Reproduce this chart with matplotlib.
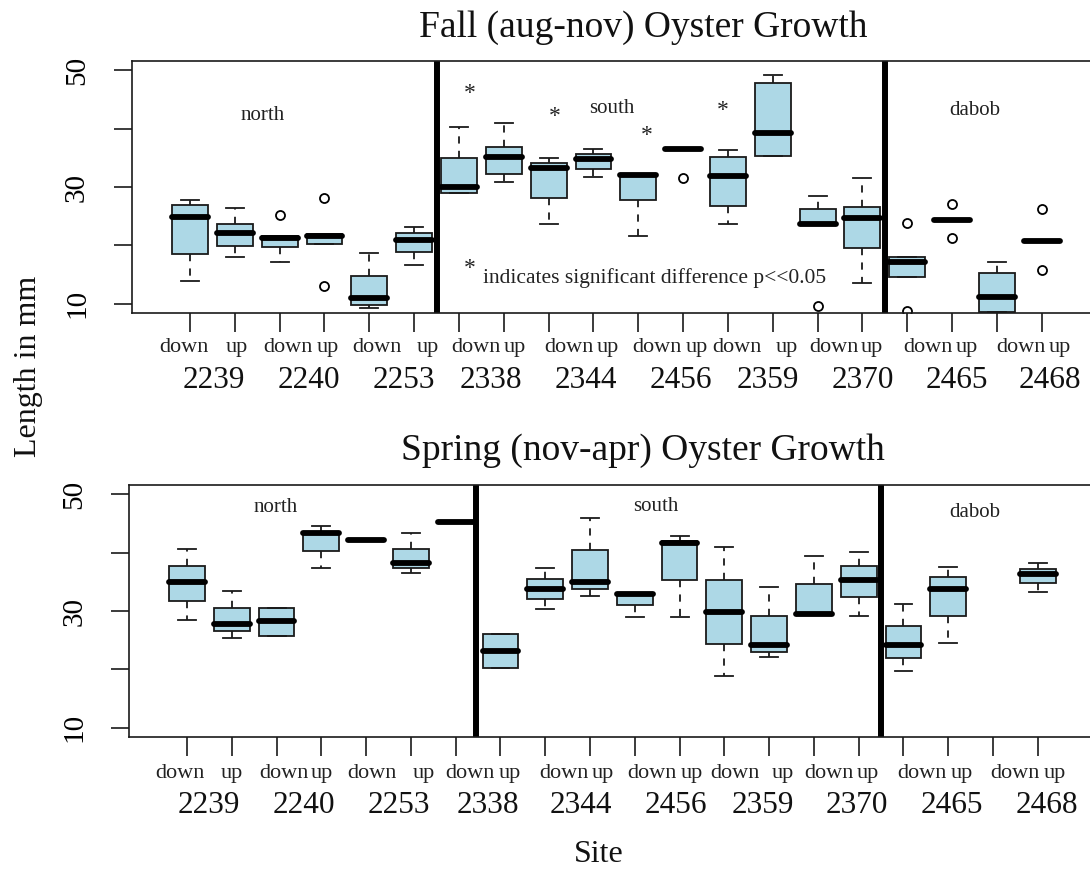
import numpy as np
import matplotlib
matplotlib.use("Agg")
import matplotlib.pyplot as plt
import matplotlib.transforms as mtransforms

plt.rcParams['font.family'] = ['Liberation Serif', 'DejaVu Serif']

# ---- data -------------------------------------------------------------
sites = ["2239", "2240", "2253", "2338", "2344", "2456", "2359", "2370", "2465", "2468"]
sides = ["down", "up"]

# Fall (aug-nov): box statistics per site/side (down, up for each site)
fall_q1 = [18.6, 19.9, 19.7, 20.2, 9.8, 18.9, 28.9, 32.2, 28.2, 33.1,
           27.8, 36.5, 26.75, 35.4, 23.6, 19.5, 14.6, 24.35, 8.5, 20.75]
fall_med = [24.8, 22.1, 21.3, 21.65, 10.9, 20.9, 29.95, 35.2, 33.2, 34.75,
            32.1, 36.5, 31.9, 39.3, 23.6, 24.7, 17.2, 24.35, 11.2, 20.75]
fall_q3 = [26.9, 23.6, 21.65, 21.9, 14.8, 22.1, 35.0, 36.9, 34.2, 35.65,
           32.1, 36.5, 35.1, 47.8, 26.2, 26.5, 18.05, 24.35, 15.2, 20.75]
fall_lo = [13.9, 18.05, 17.2, 20.2, 9.2, 16.6, 28.9, 30.9, 23.6, 31.8,
           21.6, 36.5, 23.6, 35.4, 23.6, 13.5, 14.6, 24.35, 8.5, 20.75]
fall_hi = [27.8, 26.35, 21.65, 21.9, 18.7, 23.1, 40.3, 41.0, 34.9, 36.5,
           32.1, 36.5, 36.35, 49.2, 28.5, 31.5, 18.05, 24.35, 17.1, 20.75]
fall_out = [[], [], [25.2], [28.1, 13.1], [], [], [], [], [], [],
            [], [31.6], [], [], [9.6], [], [23.9, 8.7], [27.1, 21.3], [], [26.2, 15.8]]

# Spring (nov-apr); 2468 down has no measurements
spring_q1 = [31.7, 26.6, 25.8, 40.3, 42.1, 37.3, 45.2, 20.3, 32.0, 33.8,
             31.0, 35.3, 24.3, 23.0, 29.5, 32.4, 21.9, 29.1, None, 34.75]
spring_med = [35.0, 27.8, 28.3, 43.4, 42.1, 38.2, 45.2, 23.2, 33.7, 34.9,
              32.9, 41.6, 29.8, 24.1, 29.5, 35.4, 24.1, 33.8, None, 36.3]
spring_q3 = [37.7, 30.6, 30.6, 43.4, 42.1, 40.7, 45.2, 26.1, 35.5, 40.5,
             33.1, 42.0, 35.4, 29.1, 34.6, 37.8, 27.5, 35.8, None, 37.2]
spring_lo = [28.5, 25.4, 25.8, 37.4, 42.1, 36.5, 45.2, 20.3, 30.3, 32.6,
             29.0, 29.0, 18.9, 22.1, 29.5, 29.2, 19.7, 24.5, None, 33.2]
spring_hi = [40.6, 33.4, 30.6, 44.5, 42.1, 43.4, 45.2, 26.1, 37.3, 46.0,
             33.1, 42.9, 40.9, 34.2, 39.5, 40.2, 31.2, 37.6, None, 38.2]
spring_out = [[] for _ in range(20)]

regions = ["north", "south", "dabob"]
sig_label = "indicates significant difference p<<0.05"

# ---- layout -------------------------------------------------------------
W, H = 1090, 869
fig = plt.figure(figsize=(W / 100, H / 100), dpi=100)

def px_axes(left, top, right, bottom):
    return fig.add_axes([left / W, 1 - bottom / H, (right - left) / W, (bottom - top) / H])

ax_fall = px_axes(131.7, 61, 1100, 313)
ax_spring = px_axes(128.8, 485, 1096, 737)

positions = np.arange(1, 21)

# label x positions (in box-index units) for the two label rows
fall_side_x = [0.866, 2.048, 3.186, 4.078, 5.170, 6.308, 7.378, 8.248, 9.452, 10.322,
               11.415, 12.307, 13.199, 14.314, 15.362, 16.210, 17.459, 18.328, 19.533, 20.402]
fall_site_x = [1.535, 3.654, 5.773, 7.713, 9.831, 11.950, 13.890, 16.009, 18.105, 20.179]
spring_side_x = [0.844, 2.004, 3.165, 4.013, 5.129, 6.290, 7.317, 8.210, 9.415, 10.286,
                 11.379, 12.272, 13.232, 14.304, 15.330, 16.201, 17.406, 18.299, 19.482, 20.375]
spring_site_x = [1.491, 3.612, 5.732, 7.719, 9.795, 11.915, 13.857, 15.955, 18.076, 20.196]


def draw_panel(ax, q1, med, q3, lo, hi, out, side_x, site_x, side_y, site_y):
    stats, pos = [], []
    for i in range(len(med)):
        if med[i] is None:
            continue
        stats.append(dict(q1=q1[i], med=med[i], q3=q3[i], whislo=lo[i], whishi=hi[i],
                          fliers=np.array(out[i], dtype=float)))
        pos.append(positions[i])
    ax.bxp(stats, positions=pos, widths=0.8, capwidths=0.4, patch_artist=True,
           manage_ticks=False,
           boxprops=dict(facecolor="#add8e6", edgecolor="#1a1a1a", linewidth=1.3),
           medianprops=dict(color="black", linewidth=4.2, solid_capstyle="round"),
           whiskerprops=dict(color="#1a1a1a", linewidth=1.3, linestyle=(0, (4, 4))),
           capprops=dict(color="#1a1a1a", linewidth=1.3),
           flierprops=dict(marker="o", markerfacecolor="none", markeredgecolor="black",
                           markersize=6.5, markeredgewidth=1.3))
    ax.set_xlim(-0.3, 21.3)
    ax.set_ylim(8.4, 51.6)
    ax.set_xticks(positions)
    ax.set_xticklabels([])
    ax.set_yticks([10, 20, 30, 40, 50])
    ax.set_yticklabels(["10", "", "30", "", "50"], rotation=90, va="center", fontsize=21)
    ax.tick_params(axis="x", direction="out", length=14, width=1.2, color="#1a1a1a")
    ax.tick_params(axis="y", direction="out", length=13, width=1.2, color="#1a1a1a", pad=17)
    for s in ax.spines.values():
        s.set_linewidth(1.2)
        s.set_color("#1a1a1a")
    tr = mtransforms.blended_transform_factory(ax.transData, ax.transAxes)
    for k, x in enumerate(side_x):
        ax.text(x, side_y, sides[k % 2], transform=tr, ha="center", va="baseline",
                fontsize=16, color="#222222", clip_on=False)
    for k, x in enumerate(site_x):
        ax.text(x, site_y, sites[k], transform=tr, ha="center", va="baseline",
                fontsize=22.5, color="#111111", clip_on=False)


draw_panel(ax_fall, fall_q1, fall_med, fall_q3, fall_lo, fall_hi, fall_out,
           fall_side_x, fall_site_x, -0.155, -0.298)
draw_panel(ax_spring, spring_q1, spring_med, spring_q3, spring_lo, spring_hi, spring_out,
           spring_side_x, spring_site_x, -0.163, -0.302)

# region separators
for x in (6.5, 16.5):
    ax_fall.axvline(x, color="black", linewidth=4.3)
for x in (7.45, 16.5):
    ax_spring.axvline(x, color="black", linewidth=4.3)

# region names
for name, x, y in zip(regions, (2.63, 10.41, 18.51), (41.5, 42.7, 42.35)):
    ax_fall.text(x, y, name, ha="center", va="baseline", fontsize=15, color="#222222")
for name, x, y in zip(regions, (2.99, 11.47, 18.59), (47.0, 47.15, 46.1)):
    ax_spring.text(x, y, name, ha="center", va="baseline", fontsize=15, color="#222222")

# significance markers
for x, y in ((7.24, 46.1), (9.14, 42.0), (11.19, 38.9), (12.89, 43.2), (7.24, 16.1)):
    ax_fall.text(x, y, "*", ha="center", va="center", fontsize=17, color="#222222")
ax_fall.text(7.53, 13.5, sig_label, ha="left", va="baseline", fontsize=15.5, color="#222222")

# titles and axis labels
fig.text(643 / W, 1 - 37 / H, "Fall (aug-nov) Oyster Growth", ha="center", va="baseline",
         fontsize=27, color="#111111")
fig.text(643 / W, 1 - 460 / H, "Spring (nov-apr) Oyster Growth", ha="center", va="baseline",
         fontsize=27, color="#111111")
fig.text(29 / W, 1 - 366 / H, "Length in mm", rotation=90, ha="center", va="center",
         fontsize=23, color="#111111")
fig.text(599 / W, 1 - 855 / H, "Site", ha="center", va="center", fontsize=23, color="#111111")

fig.savefig("out.png", dpi=100)
